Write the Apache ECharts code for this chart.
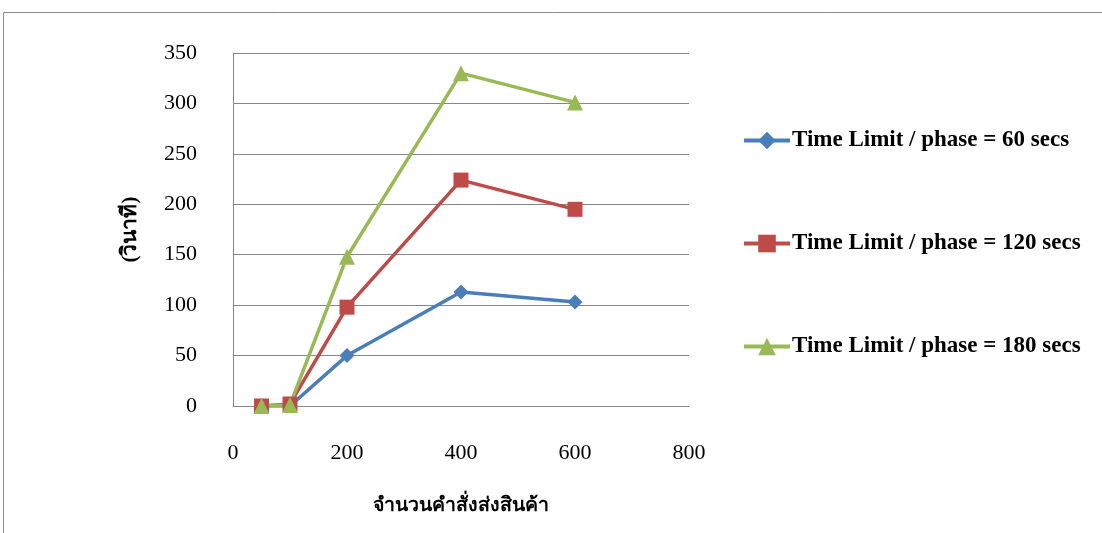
<!DOCTYPE html>
<html>
<head>
<meta charset="utf-8">
<script src="https://cdn.jsdelivr.net/npm/echarts@6/dist/echarts.min.js"></script>
<style>
  html, body { margin: 0; padding: 0; background: #fff; }
  #chart { width: 1102px; height: 533px; }
</style>
</head>
<body>
<div id="chart"></div>
<script>
// Order counts (x) and waiting time in seconds (y) for each time limit per phase
const orders = [50, 100, 200, 400, 600];
const limit60 = [0, 0, 50, 113, 103];
const limit120 = [0, 2, 98, 224, 195];
const limit180 = [0, 1, 148, 330, 301];

const seriesNames = [
  'Time Limit / phase = 60 secs',
  'Time Limit / phase = 120 secs',
  'Time Limit / phase = 180 secs'
];
const xTitle = 'จำนวนคำสั่งส่งสินค้า';
const yTitle = '(วินาที)';

const serif = '"Liberation Serif", "Times New Roman", "DejaVu Serif", serif';
const colors = ['#4A7EBB', '#BE4B48', '#98B954'];

function pairs(ys) { return orders.map((x, i) => [x, ys[i]]); }

const chart = echarts.init(document.getElementById('chart'));
chart.setOption({
  animation: false,
  color: colors,
  textStyle: { fontFamily: serif },
  graphic: [{
    type: 'rect',
    shape: { x: 3.5, y: 12.5, width: 1110, height: 540 },
    style: { fill: 'none', stroke: '#8c8c8c', lineWidth: 1 },
    silent: true
  }],
  grid: { left: 233, right: 413, top: 53, bottom: 127, containLabel: false },
  legend: {
    orient: 'vertical',
    left: 742,
    top: 129,
    padding: 0,
    itemWidth: 46,
    itemHeight: 22,
    itemGap: 80,
    lineStyle: { width: 4 },
    textStyle: { fontFamily: serif, fontSize: 23, fontWeight: 'bold', color: '#000', padding: [0, 0, 0, -3] },
    data: seriesNames
  },
  xAxis: {
    type: 'value',
    min: 0, max: 800, interval: 200,
    name: xTitle,
    nameLocation: 'middle',
    nameGap: 90,
    nameTextStyle: { fontFamily: serif, fontSize: 19.5, fontWeight: 'bold', color: '#000' },
    axisLine: { show: true, lineStyle: { color: '#868686', width: 1 } },
    axisTick: { show: false },
    axisLabel: { margin: 36, fontSize: 22, color: '#000', fontFamily: serif },
    splitLine: { show: false }
  },
  yAxis: {
    type: 'value',
    min: 0, max: 350, interval: 50,
    name: yTitle,
    nameLocation: 'middle',
    nameGap: 92,
    nameRotate: 90,
    nameTextStyle: { fontFamily: serif, fontSize: 21, fontWeight: 'bold', color: '#000' },
    axisLine: { show: true, lineStyle: { color: '#868686', width: 1 } },
    axisTick: { show: false },
    axisLabel: { margin: 36, fontSize: 22, color: '#000', fontFamily: serif },
    splitLine: { show: true, lineStyle: { color: '#868686', width: 1 } }
  },
  series: [
    {
      name: seriesNames[0], type: 'line', data: pairs(limit60),
      symbol: 'diamond', symbolSize: 15,
      lineStyle: { width: 3.5 }, itemStyle: { color: colors[0] }
    },
    {
      name: seriesNames[1], type: 'line', data: pairs(limit120),
      symbol: 'rect', symbolSize: 15,
      lineStyle: { width: 3.5 }, itemStyle: { color: colors[1] }
    },
    {
      name: seriesNames[2], type: 'line', data: pairs(limit180),
      symbol: 'triangle', symbolSize: 16,
      lineStyle: { width: 3.5 }, itemStyle: { color: colors[2] }
    }
  ]
});
</script>
</body>
</html>
